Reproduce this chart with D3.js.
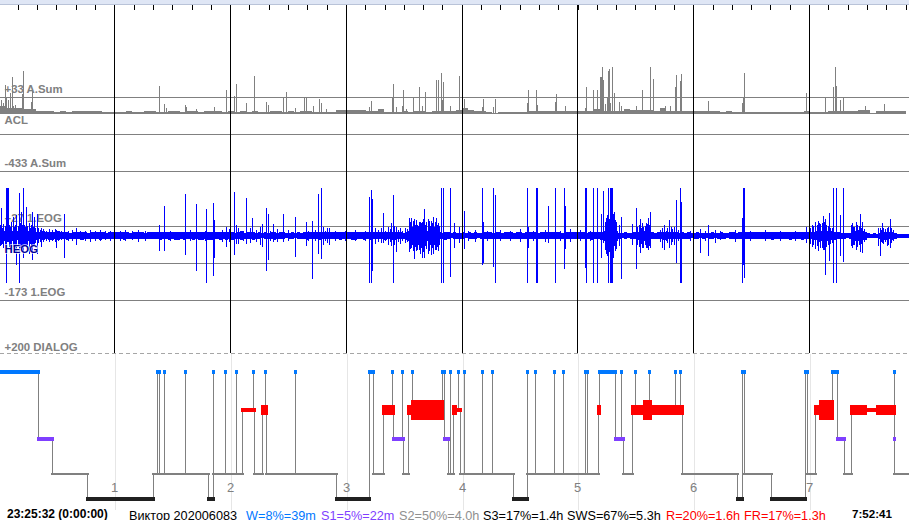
<!DOCTYPE html>
<html><head><meta charset="utf-8">
<script src="https://cdnjs.cloudflare.com/ajax/libs/d3/7.8.5/d3.min.js"></script>
<style>html,body{margin:0;padding:0;background:#fff;overflow:hidden}svg{display:block}
text{font-family:"Liberation Sans",Arial,sans-serif}</style></head><body>
<script>
// time axis unit: one recording bin (about 31 s); hours fall every ~115.85 bins
const hourBins=[114.5,230.5,346.5,462.5,577.5,693.5,809.5];
const hourLabels=["1","2","3","4","5","6","7"];
// A.Sum channel
const aSumLimits=[-433,33];
const aSumFloor=-71;
const aSumStep=6;
const aSumTop=[-22,-34,-30,-34,-38,-40,-54,-54,-51,-56,-54,-56,-54,-50,-52,-51,-54,-56,-56,-58,-56,-54,-56,-56,-54,-54,-56,-56,-54,-52,-56,-54,-54,-56,-52,-52,-54,-56,-54,-56,-51,-56,-54,-56,-56,-54,-54,-56,-54,-56,-50,-54,-56,-58,-56,-56,-48,-48,-47,-48,-48,-49,-50,-40,-56,-58,-60,-54,-56,-51,-54,-56,-51,-50,-54,-51,-48,-32,-48,-52,-50,-60,-62,-58,-60,-56,-58,-56,-54,-54,-54,-54,-54,-52,-52,-50,-52,-50,-52,-39,-52,-54,-54,-54,-39,-48,-46,-48,-48,-49,-34,-54,-54,-52,-50,-54,-50,-50,-54,-54,-58,-54,-58,-58,-56,-58,-58,-56,-58,-56,-58,-58,-56,-58,-54,-56,-56,-58,-54,-54,-54,-52,-51,-48,-46,-62,-54,-54,-54,-50,-54,-60];
const aSumSpikeBin=[1.7,3,5,6.7,8,10,12.3,13,15,22.7,23.3,31.7,32.3,159.3,164,166.7,185.7,186.7,196.7,214,226.3,234.3,236.3,246.3,254.3,266.3,268.3,283.7,286.3,295.7,304,306,313.3,319.3,321.3,326,369.7,371.3,392.3,393.3,396.3,402.3,403.3,406.3,413.3,419.3,422.3,425.3,436.3,438.3,441.3,442.3,443.3,450.3,459.3,464.3,482.3,483.3,493.3,495.3,527.3,528.3,536.3,537.3,555.3,556.3,565.3,585.7,586.7,593.3,597.3,600.3,601.3,602.3,603.3,605,607,608.7,609.7,610.7,612.3,614.3,619.3,621.3,636.3,642.3,650.3,653.3,665.3,670.3,675.3,676.3,680.3,681.3,708.3,742.3,743.3,744.3,806.3,825.3,833.3,835.3,836.3,840.3,843.3,865.3,884.3];
const aSumSpikeVal=[17,-4,111,27,17,59,160,-21,-14,53,200,7,76,105,-8,-36,-15,-29,-40,-29,80,42,118,0,168,4,-15,34,67,-31,34,28,-21,21,-4,-40,-25,11,34,118,-29,-21,80,-42,34,97,-21,67,143,143,185,17,128,-21,168,21,-25,21,-25,21,0,80,80,-15,6,55,-21,-35,101,80,80,164,164,223,143,-8,34,202,210,0,223,59,6,-21,-21,80,223,149,-21,-21,101,174,137,181,11,0,34,185,59,34,101,223,105,17,32,-21,-8];
// EOG channel
const eogLimits=[-173,27];
const eogCentre=2;
const eogStep=3;
const eogHalfBand=[13,14,12,15,13,12,14,11,13,14,12,13,11,10,12,10,11,11,10,12,10,9,11,8,10,10,9,11,9,8,10,10,9,11,10,8,10,9,10,9,10,11,9,8,10,10,9,10,8,9,9,10,9,11,10,9,11,10,11,11,10,11,10,10,11,10,11,11,10,11,11,10,10,11,10,11,10,11,8,10,12,8,10,9,11,8,10,7,10,8,9,11,8,9,10,7,8,10,7,9,8,10,11,9,10,9,11,10,10,9,9,10,10,11,10,10,9,11,11,10,10,11,10,11,10,9,10,9,11,10,11,11,9,10,8,11,14,13,12,15,14,13,14,13,11,13,10,8,11,9,7,10,8,8,9,7,9,8,9,7,8,9,9,10,8,9,9,8,10,9,9,8,9,9,8,10,9,9,9,8,10,9,9,9,9,10,9,8,9,10,9,9,10,9,9,8,10,11,9,10,11,13,17,19,16,14,8,7,9,7,8,9,11,12,13,13,11,9,8,9,10,11,10,10,10,9,8,9,8,9,7,8,9,7,8,7,8,9,7,8,9,8,7,9,9,8,9,10,9,9,9,9,10,9,10,10,9,11,10,10,10,9,10,11,10,10,9,11,10,9,10,11,12,14,15,13,15,12,11,9,8,8,7,8,11,13,15,12,11,7,6,7,6,8,11,11,10,11,8,6,5,6,6,5];
const eogFringeBin=[0.5,2,3.5,5,9.5,10.5,11.5,14.5,15.5,18,20,22,24.5,25.5,27.5,30.5,31,33,35.5,38.5,40,43,46,49,52,55,58,61,64,68,72,80,85,90,95,100,105,110,120,125,132,138,145,170,190,205,222,229,238,243,250,256,260,270,277,288,308,315,325,335,345,355,365,372.5,375,378,381,385,388,390,394.5,398,400,402.5,405,407,409,410.5,412,413,415.5,416.5,418,419,421,423,425.5,426.5,429.5,430,432,434.5,435.5,437.5,439,468,475,487,500,510,520,533,545,560,570,580,590,606,607,609.5,613.5,615,616,637.5,639,641.5,642.5,645,647.5,649.5,660.5,662,666,667.5,671,672.5,674.5,678,690,705,720,735,750,765,780,795,810.5,812,813.5,815,817,818.5,820.5,822,824.5,826.5,828,830.5,832,851,852,854.5,856,857.5,859,861.5,864,881,883.5,885,888.5,891.5,893];
const eogFringeAmp=[28,22,32,26,30,24,38,24,30,26,34,28,30,24,26,22,30,24,20,20,16,18,14,18,15,18,14,12,14,13,15,12,14,16,13,15,12,14,13,15,12,16,13,14,15,13,16,18,22,14,20,16,24,14,18,15,14,15,13,14,13,15,13,18,22,16,20,14,24,18,26,16,22,14,20,18,28,36,24,40,30,42,26,38,34,44,28,36,40,26,34,24,38,30,26,14,16,13,15,14,18,13,16,14,17,15,13,48,56,44,60,42,36,24,30,22,34,26,32,28,16,22,14,20,25,18,24,15,13,14,12,16,13,15,14,14,22,30,26,36,28,40,32,34,38,30,26,22,20,28,34,24,38,30,26,22,18,16,22,18,25,20,15];
const eogSpikeBin=[1.7,6.2,7,8,13,16.7,19.3,21,23.3,26,29,32.3,34.5,37.3,41.7,56.3,64.3,76.7,159.3,164,185.3,196.3,206.3,213.3,214.3,226.7,234.3,236,246.3,252.3,262.3,266.3,268.3,273.3,283.3,295.3,306.3,312.3,318.3,321.3,323.7,327,329.7,369.7,371,372,383.3,391.3,393.3,396.3,409.7,411.7,414.7,417.3,420,422.3,424.3,428,431,433,436,438,441.3,443.3,450.3,454.3,459.7,464.3,482.3,483.3,493.3,495.3,527.3,528.3,536.3,537.3,548.3,555.3,564.3,565.3,585.7,586.7,593.3,597.3,601.3,603.3,605,607.3,608.7,610.5,611.5,612.5,614.3,619.3,621.3,632.7,636.3,640.3,643.7,646,648.7,650.3,662.7,664.3,669.3,676.3,680.3,681.3,700.3,708.3,715.3,742.3,743.3,744.3,806.3,819.3,823.7,825.3,829.3,833.7,836.3,840.3,843.3,853.3,860.3,862.7,878.3,880.3,882.3,887,890.3];
const eogSpikeHigh=[76,130,130,130,54,58,117,67,130,81,36,67,54,62,22,17,60,22,31,82,114,87,74,90,44,27,119,31,103,49,33,76,62,33,60,52,40,42,115,130,27,22,22,108,127,101,63,37,112,27,49,50,46,30,40,40,73,48,43,52,50,36,130,130,130,37,27,69,130,40,130,112,130,27,130,130,82,130,130,82,130,130,130,130,60,123,40,40,130,130,130,130,67,31,52,34,76,47,27,36,49,67,22,31,44,99,130,94,19,31,18,49,130,130,27,36,55,46,63,130,130,58,130,27,61,40,22,22,37,22,46];
const eogSpikeLow=[-23,-125,-14,-14,-28,-77,-125,-37,-59,-28,-46,-64,-23,-46,-28,-32,-59,-23,-39,-39,-50,-92,-125,-107,-59,-28,-50,-21,-19,-10,-28,-92,-64,-14,-14,-55,-26,-116,-46,-61,-23,-18,-23,-125,-125,-92,-18,-27,-125,-41,-41,-30,-61,-36,-46,-57,-57,-46,-50,-46,-36,-40,-125,-125,-109,-30,-18,-35,-77,-72,-83,-125,-125,-32,-125,-125,-18,-125,-89,-34,-84,-125,-125,-125,-59,-18,-36,-53,-125,-125,-125,-125,-27,-25,-115,-23,-88,-44,-32,-32,-36,-32,-32,-36,-32,-71,-125,-125,-44,-54,-17,-125,-77,-111,-18,-14,-36,-104,-65,-125,-125,-54,-68,-23,-41,-44,-25,-54,-18,-27,-32];
// Hypnogram: from bin, to bin, stage, REM density
const hypFrom=[-3,38.3,52.3,87.7,153.3,157.3,159.3,164.3,164.3,185.3,185.3,208.7,213.3,213.3,225.3,225.3,236.3,236.3,242.3,253.3,253.3,254.3,262.3,265.3,265.3,266.3,295.3,295.3,336.3,369.3,373.3,383.3,392.3,392.3,393.3,402.3,402.3,403.3,408.3,412.3,412.3,442.5,444.3,448.3,450.3,450.3,453.3,455.5,458.3,458.3,460.3,464.3,464.3,482.3,482.3,492.3,492.3,513.7,527.6,527.6,535.3,535.3,554.3,554.3,563.3,563.3,585.3,587.3,598.7,599.5,615.3,621.3,621.3,623.3,632.3,635.3,635.3,644.5,649.3,649.3,650.5,675.3,675.3,680.3,680.3,682.3,737.7,742.3,744.3,771.3,805.3,807.3,815.7,820.5,832.3,837.3,844.3,851.3,865.5,877.5,894.3,894.3,894.3];
const hypTo=[38.3,52.3,87.7,153.3,157.3,159.3,164.3,164.3,185.3,185.3,208.7,213.3,213.3,225.3,225.3,236.3,236.3,242.3,253.3,253.3,254.3,262.3,265.3,265.3,266.3,295.3,295.3,336.3,369.3,373.3,383.3,392.3,392.3,393.3,402.3,402.3,403.3,408.3,412.3,412.3,442.5,444.3,448.3,450.3,450.3,453.3,455.5,458.3,458.3,460.3,464.3,464.3,482.3,482.3,492.3,492.3,513.7,527.6,527.6,535.3,535.3,554.3,554.3,563.3,563.3,585.3,587.3,598.7,599.5,615.3,621.3,621.3,623.3,632.3,635.3,635.3,644.5,649.3,649.3,650.5,675.3,675.3,680.3,680.3,682.3,737.7,742.3,744.3,771.3,805.3,807.3,815.7,820.5,832.3,837.3,844.3,851.3,865.5,877.5,894.3,894.3,894.3,912];
const hypStage=["W","S1","S2","S3","S2","W","S2","W","S2","W","S2","S3","W","S2","W","S2","W","S2","R","W","R","S2","R","W","R","S2","W","S2","S3","W","S2","R","W","R","S1","W","S1","S2","R","W","R","W","S1","S2","W","S2","R","R","W","R","S2","W","S2","W","S2","W","S2","S3","W","S2","W","S2","W","S2","W","S2","W","S2","R","W","S1","W","S1","S2","R","W","R","R","W","R","R","W","R","W","R","S2","S3","W","S2","S3","W","S2","R","R","W","S1","S2","R","R","R","W","S1","S2"];
const hypDensity=[1,1,1,1,1,1,1,1,1,1,1,1,1,1,1,1,1,1,1,1,1,1,2,1,2,1,1,1,1,1,1,2,1,2,1,1,1,1,2,1,4,1,1,1,1,1,2,1,1,1,1,1,1,1,1,1,1,1,1,1,1,1,1,1,1,1,1,1,2,1,1,1,1,1,2,1,2,4,1,4,2,1,2,1,2,1,1,1,1,1,1,1,2,4,1,1,1,2,1,2,1,1,1];
const stages=["W","R","S1","S2","S3"];
const stageColours=["#0078ff","#ff0000","#7f3fff","#808080","#202020"];
const densities=[1,2,4];
// Texts
const startText="23:25:32 (0:00:00)", endText="7:52:41";
const summaryTexts=["Виктор 202006083","W=8%=39m","S1=5%=22m","S2=50%=4.0h","S3=17%=1.4h","SWS=67%=5.3h","R=20%=1.6h","FR=17%=1.3h"];
const summaryColours=["#000","#0078ff","#7f3fff","#909090","#000","#000","#ff0000","#ff0000"];
const summaryBins=[129,246,321,399,483,567,666,744];

const W=909,H=520;
const x=d3.scaleLinear().domain([0,W]).range([0,W]);
const yA=d3.scaleLinear().domain(aSumLimits).range([171.5,97.5]);
const yE=d3.scaleLinear().domain(eogLimits).range([300.5,226.5]);
const yS=d3.scaleOrdinal().domain(stages).range([371.7,410,438.7,473.7,498.7]);
const cS=d3.scaleOrdinal().domain(stages).range(stageColours);
const hS=d3.scaleOrdinal().domain(densities).range([3.7,10,20]);
const svg=d3.select("body").append("svg").attr("width",W).attr("height",H);

// header band and 10-minute ruler
svg.append("rect").attr("width",W).attr("height",4).attr("fill","#dfe6f5");
svg.append("rect").attr("y",4).attr("width",W).attr("height",1).attr("fill","#b9c3d8");
const ruler=d3.axisBottom(x).offset(0).tickValues(d3.range(1,48).map(i=>i*115.78/6-0.9)).tickSize(5).tickFormat("");
svg.append("g").attr("transform","translate(0,5)").call(ruler).call(g=>g.select(".domain").remove())
   .selectAll("line").attr("stroke","#000").attr("shape-rendering","crispEdges");

// channel labels (below signals)
const lab=(t,y,c)=>svg.append("text").attr("x",4.5).attr("y",y).attr("font-size",11.4).attr("font-weight","bold").attr("fill",c||"#808080").text(t);
lab("+33 A.Sum",93);lab("-433 A.Sum",167);lab("+27 1.EOG",222);lab("-173 1.EOG",296);lab("+200 DIALOG",351);

// horizontal scale lines via the library's axes
const grid=(scale,vals)=>svg.append("g").call(d3.axisRight(scale).offset(0).tickValues(vals).tickSize(W).tickFormat(""))
  .call(g=>g.select(".domain").remove()).selectAll("line").attr("stroke","#808080").attr("shape-rendering","crispEdges");
grid(yA,[33,-200,-433]);
grid(yE,[27,-73,-173]);

// A.Sum trace
const aArea=d3.area().x((d,i)=>x(i*aSumStep)).y0(yA(aSumFloor)).y1(d=>yA(d)).curve(d3.curveStepAfter);
svg.append("path").datum(aSumTop).attr("d",aArea).attr("fill","#808080").attr("shape-rendering","crispEdges");
svg.append("g").selectAll("line").data(aSumSpikeBin).join("line")
  .attr("x1",d=>x(d)).attr("x2",d=>x(d)).attr("y1",yA(aSumFloor)).attr("y2",(d,i)=>yA(aSumSpikeVal[i]))
  .attr("stroke","#808080").attr("shape-rendering","crispEdges");

// EOG trace
const eArea=d3.area().x((d,i)=>x(i*eogStep)).y0(d=>yE(eogCentre-d)).y1(d=>yE(eogCentre+d)).curve(d3.curveStepAfter);
svg.append("path").datum(eogHalfBand).attr("d",eArea).attr("fill","#0000ff").attr("shape-rendering","crispEdges");
svg.append("g").selectAll("line").data(eogFringeBin).join("line")
  .attr("x1",d=>x(d)).attr("x2",d=>x(d)).attr("y1",(d,i)=>yE(eogCentre+eogFringeAmp[i])).attr("y2",(d,i)=>yE(eogCentre-eogFringeAmp[i]))
  .attr("stroke","#0000ff").attr("shape-rendering","crispEdges");
svg.append("g").selectAll("line").data(eogSpikeBin).join("line")
  .attr("x1",d=>x(d)).attr("x2",d=>x(d)).attr("y1",(d,i)=>yE(eogSpikeHigh[i])).attr("y2",(d,i)=>yE(eogSpikeLow[i]))
  .attr("stroke","#0000ff").attr("shape-rendering","crispEdges");

// Hour cursors
svg.append("g").selectAll("line").data(hourBins).join("line")
  .attr("x1",d=>x(d)).attr("x2",d=>x(d)).attr("y1",5).attr("y2",353)
  .attr("stroke","#000").attr("shape-rendering","crispEdges");
lab("ACL",124);
lab("HEOG",253,"#00009a").attr("stroke","#ffffff").attr("stroke-width",1.5).attr("stroke-opacity",0.8).attr("paint-order","stroke");

// Dialog separator
svg.append("line").attr("x1",0).attr("x2",W).attr("y1",353.5).attr("y2",353.5)
  .attr("stroke","#a6a6a6").attr("stroke-dasharray","4,3");

// Hypnogram hour lines and labels
svg.append("g").selectAll("line").data(hourBins).join("line")
  .attr("x1",d=>x(d+1)).attr("x2",d=>x(d+1)).attr("y1",354).attr("y2",510)
  .attr("stroke","#e6e6e6").attr("shape-rendering","crispEdges");
svg.append("g").selectAll("text").data(hourBins).join("text")
  .attr("x",d=>x(d)).attr("y",492).attr("text-anchor","middle").attr("font-size",13).attr("fill","#808080")
  .text((d,i)=>hourLabels[i]);

// Hypnogram step line
const seg=hypFrom.map((f,i)=>({f,t:hypTo[i],s:hypStage[i],d:hypDensity[i]}));
const links=seg.slice(1).map((d,i)=>({a:seg[i],b:d}));
svg.append("g").selectAll("line").data(links).join("line")
  .attr("x1",d=>x(d.b.f)).attr("x2",d=>x(d.b.f)).attr("y1",d=>yS(d.a.s)).attr("y2",d=>yS(d.b.s))
  .attr("stroke","#808080").attr("stroke-width",1.2).attr("shape-rendering","crispEdges");
// Bars: light sleep thin, the others heavy
const order=seg.slice().sort((p,q)=>(p.s==="S2"?0:1)-(q.s==="S2"?0:1));
svg.append("g").selectAll("rect").data(order).join("rect")
  .attr("x",d=>x(d.f)-1.5).attr("width",d=>x(d.t)-x(d.f)+3)
  .attr("y",d=>yS(d.s)-(d.s==="S2"?1:hS(d.d)/2))
  .attr("height",d=>d.s==="S2"?2:hS(d.d))
  .attr("fill",d=>cS(d.s)).attr("shape-rendering","crispEdges");

// Footer
svg.append("text").attr("x",x(7)).attr("y",518).attr("font-size",12).attr("font-weight","bold").attr("fill","#000").text(startText);
svg.append("text").attr("x",x(852)).attr("y",518).attr("font-size",11.6).attr("font-weight","bold").attr("fill","#000").text(endText);
svg.append("g").selectAll("text").data(summaryTexts).join("text")
  .attr("x",(d,i)=>x(summaryBins[i])).attr("y",520).attr("font-size",12.7)
  .attr("fill",(d,i)=>summaryColours[i]).text(d=>d);
</script></body></html>
